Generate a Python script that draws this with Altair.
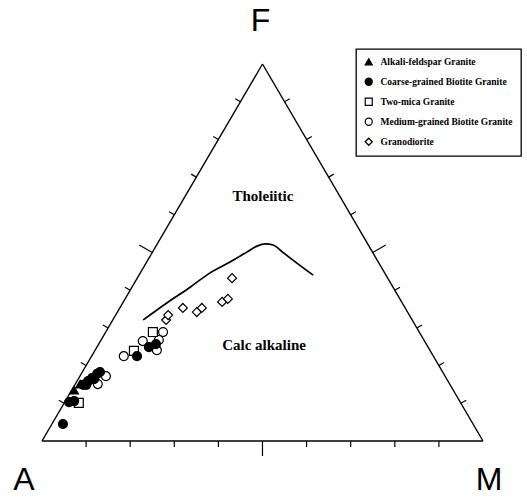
import math
import altair as alt
import pandas as pd

# AFM ternary compositions: A = Na2O+K2O, F = FeO(t), M = MgO (normalised to 100)
groups = [
    "Alkali-feldspar Granite",
    "Coarse-grained Biotite Granite",
    "Two-mica Granite",
    "Medium-grained Biotite Granite",
    "Granodiorite",
]
shapes = ["triangle-up", "circle", "square", "circle", "diamond"]
fills = ["black", "black", "white", "white", "white"]
strokes = ["black", "black", "black", "black", "black"]

alkali_A = [86.0, 83.8]
alkali_F = [13.5, 15.1]
alkali_M = [0.5, 1.1]

coarse_A = [93.0, 88.7, 87.4, 83.2, 81.6, 80.3, 78.6, 77.7, 82.5, 80.0, 67.2, 63.3, 61.3]
coarse_F = [4.5, 10.3, 10.6, 14.9, 15.9, 16.7, 17.8, 18.3, 14.9, 16.4, 22.5, 24.9, 25.7]
coarse_M = [2.5, 1.0, 2.0, 1.9, 2.5, 3.0, 3.6, 4.0, 2.6, 3.6, 10.3, 11.8, 13.0]

twomica_A = [86.6, 60.4, 67.2]
twomica_F = [10.1, 28.9, 23.9]
twomica_M = [3.3, 10.7, 8.9]

medium_A = [70.2, 63.9, 58.1, 60.1, 61.9, 76.9, 79.8]
medium_F = [22.5, 26.5, 28.9, 26.8, 24.1, 17.2, 15.1]
medium_M = [7.3, 9.6, 13.0, 13.1, 14.0, 5.9, 5.1]

grano_A = [55.8, 54.7, 50.4, 47.8, 46.1, 40.7, 39.0, 35.3]
grano_F = [32.1, 33.4, 35.3, 34.2, 35.3, 36.9, 37.7, 43.2]
grano_M = [12.1, 11.9, 14.3, 18.0, 18.6, 22.4, 23.3, 21.5]

# Tholeiitic / calc-alkaline dividing line
line_A = [61.0, 53.4, 46.0, 39.6, 33.6, 28.5, 25.4, 23.2, 21.6, 20.4, 18.6, 16.5]
line_F = [32.1, 36.6, 40.8, 44.6, 47.5, 50.1, 51.7, 52.3, 52.0, 50.1, 47.2, 44.0]
line_M = [6.9, 10.0, 13.2, 15.8, 18.9, 21.4, 22.9, 24.5, 26.4, 29.5, 34.2, 39.5]

tick_values = [10, 20, 30, 40, 50, 60, 70, 80, 90]

# Chart geometry
W, H = 527, 502
X_DOM = [-0.0952, 1.0998]
Y_DOM = [-0.1618, 1.1698]
px_x = W / (X_DOM[1] - X_DOM[0])
px_y = H / (Y_DOM[1] - Y_DOM[0])


def to_xy(a, f, m):
    s = a + f + m
    return (m + f / 2) / s, f / s


xs = alt.X("x:Q", scale=alt.Scale(domain=X_DOM, nice=False, zero=False), axis=None)
ys = alt.Y("y:Q", scale=alt.Scale(domain=Y_DOM, nice=False, zero=False), axis=None)
x2s = alt.X2("x2:Q")
y2s = alt.Y2("y2:Q")

# Sample points
series = [
    (groups[3], medium_A, medium_F, medium_M),
    (groups[2], twomica_A, twomica_F, twomica_M),
    (groups[4], grano_A, grano_F, grano_M),
    (groups[1], coarse_A, coarse_F, coarse_M),
    (groups[0], alkali_A, alkali_F, alkali_M),
]
rows = []
for name, A, F, M in series:
    for a, f, m in zip(A, F, M):
        x, y = to_xy(a, f, m)
        rows.append({"rock": name, "x": x, "y": y})
pts = pd.DataFrame(rows)
pts["order"] = range(len(pts))

# Triangle frame
corners = [to_xy(100, 0, 0), to_xy(0, 100, 0), to_xy(0, 0, 100)]
edges = pd.DataFrame(
    [
        {"x": corners[i][0], "y": corners[i][1], "x2": corners[(i + 1) % 3][0], "y2": corners[(i + 1) % 3][1]}
        for i in range(3)
    ]
)

# Outward ticks, perpendicular to each side (pixel directions, y pointing down)
c30, s30 = math.cos(math.radians(30)), math.sin(math.radians(30))
sides = [
    (lambda t: (t, 0.0), (0.0, 1.0)),                    # A-M base
    (lambda t: (0.5 * t, t), (-c30, -s30)),             # A-F side
    (lambda t: (0.5 + 0.5 * t, 1.0 - t), (c30, -s30)),  # F-M side
]
tick_rows = []
for pos, (nx, ny) in sides:
    for v in tick_values:
        x0, y0 = pos(v / 100)
        length = 15 if v == 50 else 6
        tick_rows.append(
            {"x": x0, "y": y0, "x2": x0 + nx * length / px_x, "y2": y0 - ny * length / px_y}
        )
ticks = pd.DataFrame(tick_rows)

curve_rows = []
for i, (a, f, m) in enumerate(zip(line_A, line_F, line_M)):
    x, y = to_xy(a, f, m)
    curve_rows.append({"x": x, "y": y, "i": i})
curve = pd.DataFrame(curve_rows)

frame = alt.Chart(edges).mark_rule(color="black", strokeWidth=1.4).encode(x=xs, y=ys, x2=x2s, y2=y2s)
tick_layer = alt.Chart(ticks).mark_rule(color="black", strokeWidth=1.2).encode(x=xs, y=ys, x2=x2s, y2=y2s)
boundary = alt.Chart(curve).mark_line(color="black", strokeWidth=1.7, interpolate="monotone").encode(
    x=xs, y=ys, order="i:Q"
)

points = alt.Chart(pts).mark_point(filled=True, strokeWidth=1.2, opacity=1, size=80).encode(
    x=xs,
    y=ys,
    shape=alt.Shape("rock:N", scale=alt.Scale(domain=groups, range=shapes), title=None),
    fill=alt.Fill("rock:N", scale=alt.Scale(domain=groups, range=fills), title=None),
    stroke=alt.Stroke("rock:N", scale=alt.Scale(domain=groups, range=strokes), title=None),
    order="order:Q",
)


def vertex_label(text, a, f, m, dx, dy):
    x, y = to_xy(a, f, m)
    df = pd.DataFrame([{"x": x, "y": y, "t": text}])
    return alt.Chart(df).mark_text(
        font="Liberation Sans", fontSize=32, color="black", dx=dx, dy=dy, baseline="middle", align="center"
    ).encode(x=xs, y=ys, text="t:N")


def field_label(text, a, f, m):
    x, y = to_xy(a, f, m)
    df = pd.DataFrame([{"x": x, "y": y, "t": text}])
    return alt.Chart(df).mark_text(
        font="Liberation Serif", fontSize=15, fontWeight="bold", color="black", baseline="middle", align="center"
    ).encode(x=xs, y=ys, text="t:N")


labels = [
    vertex_label("F", 0, 100, 0, -2, -43),
    vertex_label("A", 100, 0, 0, -18, 39),
    vertex_label("M", 0, 0, 100, 6, 39),
    field_label("Tholeiitic", 17.4, 65.0, 17.6),
    field_label("Calc alkaline", 36.9, 25.5, 37.6),
]

chart = (
    alt.layer(frame, tick_layer, boundary, points, *labels)
    .properties(width=W, height=H, padding=0, autosize=alt.AutoSizeParams(type="none"))
    .configure_view(stroke=None)
    .configure_legend(
        orient="none",
        legendX=356,
        legendY=49,
        padding=8,
        rowPadding=7,
        strokeColor="black",
        strokeWidth=1.3,
        fillColor="white",
        labelFont="Liberation Serif",
        labelFontWeight="bold",
        labelFontSize=9.5,
        labelColor="black",
        labelOffset=7,
        symbolSize=50,
        symbolStrokeWidth=1.2,
    )
)

chart.save("out.html", embed_options={"renderer": "svg", "actions": False})
